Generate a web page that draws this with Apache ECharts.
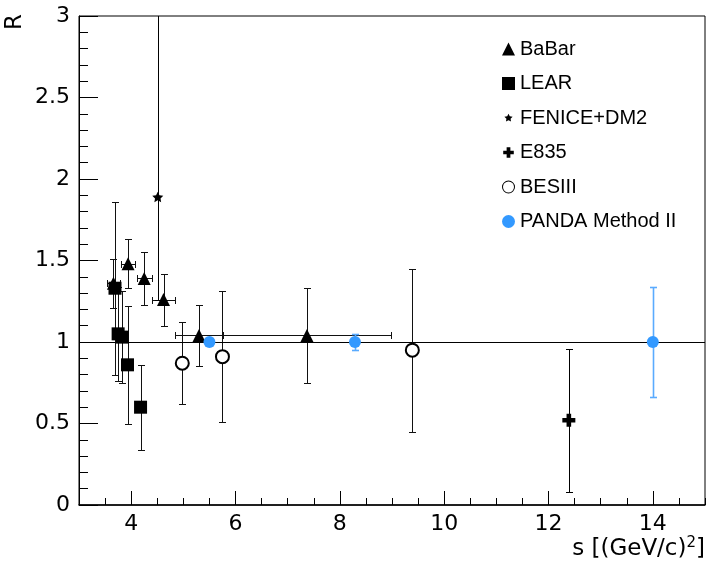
<!DOCTYPE html>
<html><head><meta charset="utf-8">
<script src="https://cdn.jsdelivr.net/npm/echarts@6/dist/echarts.min.js"></script>
<style>html,body{margin:0;padding:0;background:#fff}#c{width:709px;height:565px}</style>
</head><body><div id="c"></div>
<script>
// ---- data ----
const xTickLabels = [4, 6, 8, 10, 12, 14];
const refLine = 1;

const babarS    = [3.66, 3.94, 4.25, 4.62, 5.30, 7.37];
const babarR    = [1.36, 1.48, 1.39, 1.26, 1.04, 1.04];
const babarSErr = [0.13, 0.13, 0.14, 0.22, 0.46, 1.62];
const babarRErr = [0.15, 0.15, 0.16, 0.16, 0.19, 0.29];

const learS    = [3.69, 3.75, 3.83, 3.93, 4.18];
const learR    = [1.33, 1.05, 1.03, 0.86, 0.60];
const learRErr = [0.53, 0.29, 0.28, 0.36, 0.26];

const feniceS        = [4.51];
const feniceR        = [1.89];
const feniceRErrUp   = [1.20];
const feniceRErrDown = [0.63];

const e835S    = [12.39];
const e835R    = [0.52];
const e835RErr = [0.44];

const besS    = [4.98, 5.75, 9.39];
const besR    = [0.87, 0.91, 0.95];
const besRErr = [0.25, 0.40, 0.50];

const pandaS    = [5.50, 8.29, 14.0];
const pandaR    = [1.0, 1.0, 1.0];
const pandaRErr = [0.02, 0.05, 0.34];

// ---- helpers ----
const starPath = 'path://M0,-10L2.94,-4.05L9.51,-3.09L4.76,1.55L5.88,8.09L0,5L-5.88,8.09L-4.76,1.55L-9.51,-3.09L-2.94,-4.05Z';
const starIcon = 'path://M-15,-15M15,15M0,-10L2.94,-4.05L9.51,-3.09L4.76,1.55L5.88,8.09L0,5L-5.88,8.09L-4.76,1.55L-9.51,-3.09L-2.94,-4.05Z';
const plusPath = 'path://M-2.3,-6.5H2.3V-2.3H6.5V2.3H2.3V6.5H-2.3V2.3H-6.5V-2.3H-2.3Z';
const plusIcon = 'path://M-8,-8M8,8M-2.3,-6.5H2.3V-2.3H6.5V2.3H2.3V6.5H-2.3V2.3H-6.5V-2.3H-2.3Z';
const ringIcon = 'path://M0,-6.5A6.5,6.5 0 1,1 0,6.5A6.5,6.5 0 1,1 0,-6.5Z M0,-5.5A5.5,5.5 0 1,0 0,5.5A5.5,5.5 0 1,0 0,-5.5Z';

function pts(s, r) { return s.map((v, i) => [v, r[i]]); }
function errRows(s, r, up, down, sx) {
  return s.map((v, i) => [v, r[i], up[i], down[i], sx ? sx[i] : 0]);
}
function errSeries(name, rows, color, width, extra) {
  return Object.assign({
    type: 'custom', name: name, clip: true, silent: true, z: 2,
    data: rows,
    encode: { x: 0, y: 1 },
    renderItem: function (params, api) {
      const x = api.value(0), y = api.value(1), up = api.value(2), dn = api.value(3), sx = api.value(4);
      const c = api.coord([x, y]);
      const top = api.coord([x, y + up]);
      const bot = api.coord([x, y - dn]);
      const cx = Math.round(c[0]) + 0.5;
      const cy = Math.round(c[1]) + 0.5;
      const ty = Math.round(top[1]) + 0.5, by = Math.round(bot[1]) + 0.5;
      const cap = 3.5;
      const st = { stroke: color, lineWidth: width, opacity: 1 };
      const ch = [
        { type: 'line', shape: { x1: cx, y1: ty, x2: cx, y2: by }, style: st },
        { type: 'line', shape: { x1: cx - cap, y1: ty, x2: cx + cap, y2: ty }, style: st },
        { type: 'line', shape: { x1: cx - cap, y1: by, x2: cx + cap, y2: by }, style: st }
      ];
      if (sx > 0) {
        const l = api.coord([x - sx, y]), r = api.coord([x + sx, y]);
        const lx = Math.round(l[0]) + 0.5, rx = Math.round(r[0]) + 0.5;
        ch.push({ type: 'line', shape: { x1: lx, y1: cy, x2: rx, y2: cy }, style: st });
        ch.push({ type: 'line', shape: { x1: lx, y1: cy - cap, x2: lx, y2: cy + cap }, style: st });
        ch.push({ type: 'line', shape: { x1: rx, y1: cy - cap, x2: rx, y2: cy + cap }, style: st });
      }
      return { type: 'group', children: ch };
    }
  }, extra || {});
}

const tickFont = 'DejaVu Sans';
const chart = echarts.init(document.getElementById('c'), null, { renderer: 'canvas' });
chart.setOption({
  animation: false,
  backgroundColor: '#fff',
  grid: { left: 79, right: 4, top: 16, bottom: 60, show: true, borderColor: '#000', borderWidth: 1, backgroundColor: 'transparent' },
  xAxis: [
    {
      type: 'value', min: 3, max: 15, position: 'bottom',
      axisLine: { show: true, onZero: false, lineStyle: { color: '#000', width: 1.5 } },
      axisTick: { show: true, inside: true, length: 14, customValues: xTickLabels, lineStyle: { color: '#000', width: 1 } },
      axisLabel: { show: true, customValues: xTickLabels, margin: 8, color: '#000', fontFamily: tickFont, fontSize: 22 },
      splitLine: { show: false },
      name: '{a|s [(GeV/c)}{s|2}{a|]}',
      nameLocation: 'end', nameGap: 0,
      nameTextStyle: {
        align: 'right', verticalAlign: 'top', padding: [31, 0, 0, 0],
        rich: {
          a: { fontFamily: tickFont, fontSize: 23, color: '#000', lineHeight: 26 },
          s: { fontFamily: tickFont, fontSize: 15, color: '#000', lineHeight: 26, verticalAlign: 'top' }
        }
      }
    },
    {
      type: 'value', min: 3, max: 15, interval: 0.5, position: 'bottom',
      axisLine: { show: false },
      axisTick: { show: true, inside: true, length: 7, lineStyle: { color: '#000', width: 1 } },
      axisLabel: { show: false },
      splitLine: { show: false }
    }
  ],
  yAxis: {
    type: 'value', min: 0, max: 3, interval: 0.5,
    axisLine: { show: true, onZero: false, lineStyle: { color: '#000', width: 1 } },
    axisTick: { show: true, inside: true, length: 19, lineStyle: { color: '#000', width: 1 } },
    minorTick: { show: true, splitNumber: 5, length: 9, lineStyle: { color: '#000', width: 1 } },
    axisLabel: { margin: 9, color: '#000', fontFamily: tickFont, fontSize: 22 },
    splitLine: { show: false }
  },
  legend: {
    orient: 'vertical', left: 497, top: 33,
    itemWidth: 13, itemHeight: 13, itemGap: 12.5, itemTextGap: 17,
    textStyle: { fontFamily: 'Liberation Sans', fontSize: 20, color: '#000', lineHeight: 22 },
    data: [
      { name: 'BaBar', icon: 'triangle' },
      { name: 'LEAR', icon: 'rect' },
      { name: 'FENICE+DM2', icon: starIcon },
      { name: 'E835', icon: plusIcon },
      { name: 'BESIII', icon: ringIcon },
      { name: 'PANDA Method II', icon: 'circle' }
    ]
  },
  graphic: [
    { type: 'text', x: 15, y: 22, rotation: Math.PI / 2,
      style: { text: 'R', font: '23px "DejaVu Sans"', fill: '#000', textAlign: 'center', textVerticalAlign: 'middle' } }
  ],
  series: [
    errSeries('BaBar err', errRows(babarS, babarR, babarRErr, babarRErr, babarSErr), '#111', 1, {
      markLine: {
        silent: true, symbol: 'none', label: { show: false },
        lineStyle: { color: '#000', width: 1, type: 'solid', opacity: 1 },
        data: [{ yAxis: refLine }]
      }
    }),
    errSeries('LEAR err', errRows(learS, learR, learRErr, learRErr), '#111', 1),
    errSeries('FENICE err', errRows(feniceS, feniceR, feniceRErrUp, feniceRErrDown), '#000', 1),
    errSeries('E835 err', errRows(e835S, e835R, e835RErr, e835RErr), '#000', 1),
    errSeries('BESIII err', errRows(besS, besR, besRErr, besRErr), '#111', 1),
    errSeries('PANDA err', errRows(pandaS, pandaR, pandaRErr, pandaRErr), '#5aabff', 1.6),
    { type: 'scatter', name: 'BaBar', symbol: 'triangle', symbolSize: 13, z: 5,
      itemStyle: { color: '#000', opacity: 1 }, data: pts(babarS, babarR) },
    { type: 'scatter', name: 'LEAR', symbol: 'rect', symbolSize: 13, z: 5,
      itemStyle: { color: '#000', opacity: 1 }, data: pts(learS, learR) },
    { type: 'scatter', name: 'FENICE+DM2', symbol: starPath, symbolKeepAspect: true, symbolSize: 11, z: 5,
      itemStyle: { color: '#000', opacity: 1 }, data: pts(feniceS, feniceR) },
    { type: 'scatter', name: 'E835', symbol: plusPath, symbolKeepAspect: true, symbolSize: 13, z: 5,
      itemStyle: { color: '#000', opacity: 1 }, data: pts(e835S, e835R) },
    { type: 'scatter', name: 'BESIII', symbol: 'emptyCircle', symbolSize: 13, z: 5,
      itemStyle: { color: '#000', borderWidth: 1, opacity: 1 }, data: pts(besS, besR) },
    { type: 'scatter', name: 'PANDA Method II', symbol: 'circle', symbolSize: 12, z: 5,
      itemStyle: { color: '#3399ff', opacity: 1 }, data: pts(pandaS, pandaR) }
  ]
});
</script>
</body></html>
